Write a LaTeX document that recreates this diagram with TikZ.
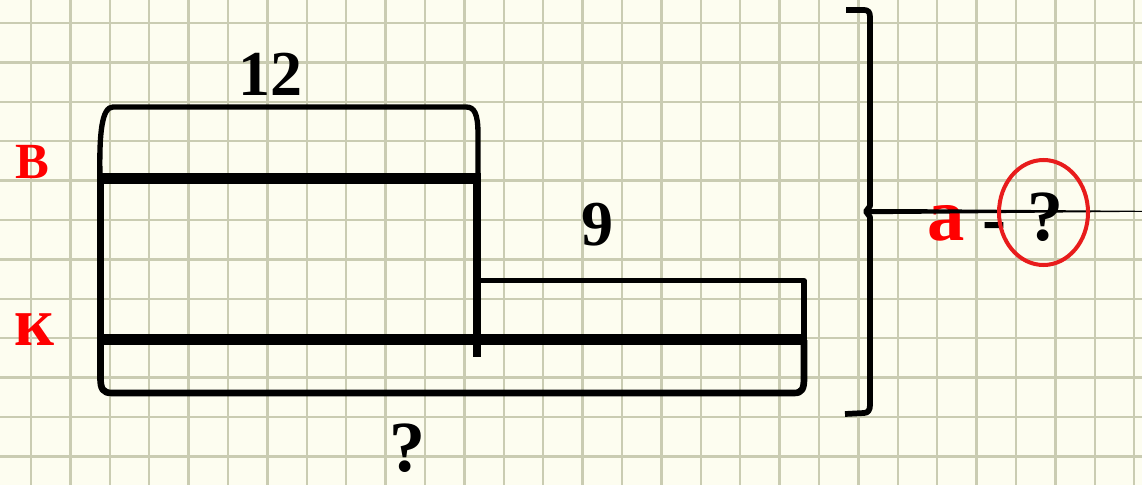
\documentclass[tikz,border=0pt]{standalone}
\usepackage{fontspec}
\setmainfont{Liberation Serif}
\usepackage{tikz}
\usetikzlibrary{positioning}
\definecolor{colPaper}{RGB}{253,253,240}
\definecolor{colGrid}{RGB}{202,204,178}
\definecolor{colMark}{RGB}{255,0,0}
\definecolor{colRing}{RGB}{232,28,28}
\tikzset{
  gridline/.style = {draw=colGrid, line width=1.7pt},
  outline/.style  = {draw=black, line width=4pt, line join=round},
  barline/.style  = {draw=black, line width=8pt},
  numlbl/.style   = {anchor=base, inner sep=0pt,
                     font=\fontsize{48}{48}\selectfont\bfseries},
  asklbl/.style   = {anchor=base, inner sep=0pt,
                     font=\fontsize{54}{54}\selectfont\bfseries},
  rowlbl/.style   = {anchor=base, inner sep=0pt, text=colMark},
}

\begin{document}
\begin{tikzpicture}[x=0.75pt, y=-0.75pt]

%% paper
\fill[colPaper] (0,0) rectangle (1142,485);
\useasboundingbox (0,0) rectangle (1142,485);
\foreach \gx in {0,...,28}
  \draw[gridline] ({31+39.4*\gx},0) -- ++(0,485);
\foreach \gy in {0,...,11}
  \draw[gridline] (0,{23+39.4*\gy}) -- ++(1142,0);

%% strips
\draw[outline] (100,178) .. controls (99,132) and (102,107) .. (113,107)
  -- (466,107) .. controls (474,107) and (478,113) .. (478,134) -- (478,178);
\draw[outline, line width=5pt] (100.5,178) -- (100.5,378)
  .. controls (100.5,389) and (103,393) .. (112,393) -- (794,393)
  .. controls (802,393) and (804,389) .. (804,378) -- (804,340);
\draw[outline] (477,280.5) -- (804,280.5) -- (804,340);
\draw[outline, line width=6pt] (477,178) -- (477,357);
\draw[barline] (97,178.5) -- (481,178.5);
\draw[barline] (97,339.5) -- (807,339.5);

%% labels
\node[numlbl] (lblTop)   at (270,95)  {12};
\node[numlbl] (lblSmall) at (597,245) {9};
\node[asklbl] (lblTotal) at (407,471) {?};
\node[rowlbl, font=\fontsize{38}{38}\selectfont\bfseries] (lblB) at (32.5,178) {В};
\node[rowlbl, font=\fontsize{52}{52}\selectfont\bfseries] (lblK) at (34,345) {к};
\node[rowlbl, font=\fontsize{56}{56}\selectfont\bfseries] (lblA) at (946,240) {а};
\node[asklbl] (lblDash) at (994,242) {-};
\node[asklbl] (lblAsk)  at (1045,240) {?};

%% brace and pointer
\coordinate (tip) at (866,211.5);
\draw[line width=4.3pt, line join=round] (846,10) -- (864,10)
  .. controls (868,10) and (870,12) .. (870,17) -- (870,206) -- (tip)
  -- (870,217) -- (870,405) .. controls (870,410) and (868,413) .. (864,413)
  -- (845,414);
\fill (tip) -- ++(0,-2.5) -- (893,209) -- (1142,210.8) -- (1142,211.8)
  -- (893,214) -- (870,214) -- cycle;
\coordinate (ringc) at (1043.5,212.5);
\draw[draw=colRing, line width=3pt] (ringc) ellipse [x radius=44.5, y radius=52.5];

\end{tikzpicture}
\end{document}
